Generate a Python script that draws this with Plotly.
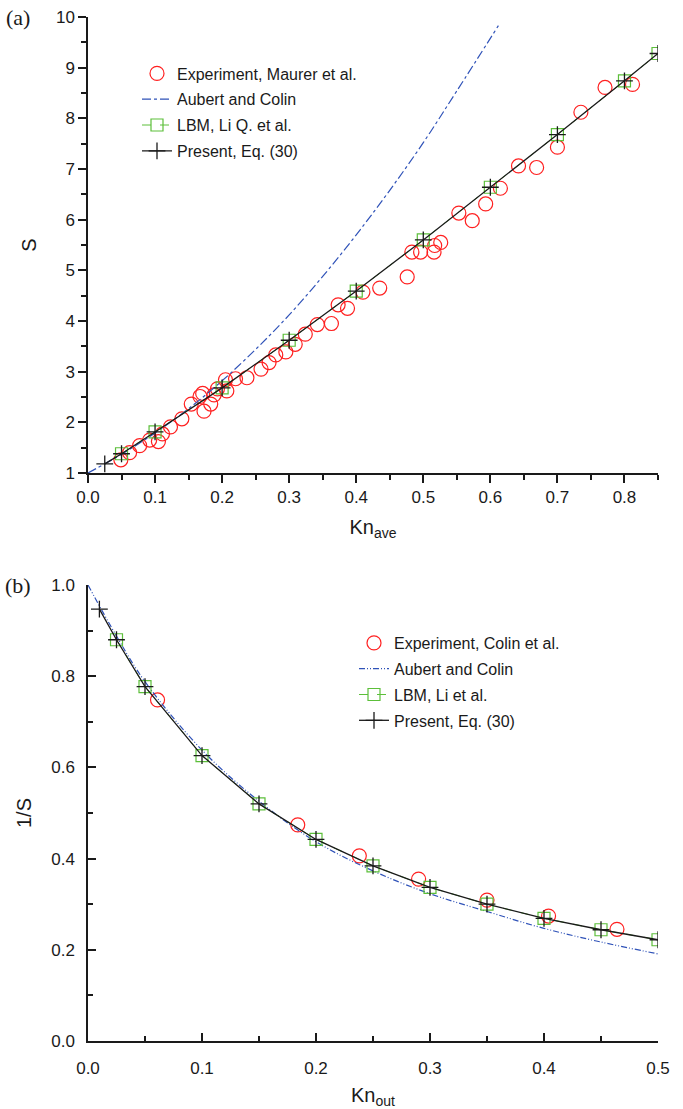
import plotly.graph_objects as go
from plotly.subplots import make_subplots

# ---------- (a) flow-rate ratio S versus average Knudsen number ----------
exp_a_kn = [0.049, 0.062, 0.077, 0.092, 0.105, 0.111, 0.123, 0.140, 0.154, 0.167,
            0.171, 0.173, 0.183, 0.188, 0.193, 0.205, 0.207, 0.220, 0.237, 0.258,
            0.270, 0.280, 0.295, 0.309, 0.324, 0.342, 0.363, 0.373, 0.387, 0.410,
            0.435, 0.476, 0.483, 0.496, 0.516, 0.517, 0.526, 0.553, 0.573, 0.593,
            0.615, 0.642, 0.669, 0.700, 0.735, 0.771, 0.812]
exp_a_s = [1.26, 1.40, 1.54, 1.65, 1.62, 1.77, 1.91, 2.07, 2.36, 2.51,
           2.57, 2.22, 2.36, 2.54, 2.66, 2.84, 2.62, 2.86, 2.88, 3.05,
           3.18, 3.33, 3.39, 3.54, 3.74, 3.93, 3.95, 4.32, 4.25, 4.57,
           4.65, 4.87, 5.36, 5.36, 5.36, 5.49, 5.55, 6.13, 5.98, 6.31,
           6.62, 7.06, 7.03, 7.43, 8.12, 8.61, 8.67]

ac_a_kn = [0.0, 0.05, 0.10, 0.15, 0.20, 0.25, 0.30, 0.35, 0.40, 0.45, 0.50, 0.55, 0.612]
ac_a_s = [1.00, 1.37, 1.79, 2.27, 2.82, 3.44, 4.12, 4.88, 5.70, 6.58, 7.52, 8.54, 9.83]

lbm_a_kn = [0.05, 0.10, 0.20, 0.30, 0.40, 0.50, 0.60, 0.70, 0.80, 0.85]
lbm_a_s = [1.38, 1.81, 2.68, 3.62, 4.59, 5.60, 6.64, 7.68, 8.74, 9.28]

present_a_kn = [0.025, 0.05, 0.10, 0.20, 0.30, 0.40, 0.50, 0.60, 0.70, 0.80, 0.85]
present_a_s = [1.18, 1.38, 1.81, 2.68, 3.62, 4.59, 5.60, 6.64, 7.68, 8.74, 9.28]

# ---------- (b) inverse ratio 1/S versus outlet Knudsen number ----------
exp_b_kn = [0.061, 0.184, 0.238, 0.290, 0.350, 0.404, 0.464]
exp_b_inv = [0.748, 0.474, 0.406, 0.355, 0.309, 0.274, 0.245]

ac_b_kn = [0.0, 0.025, 0.05, 0.10, 0.15, 0.20, 0.25, 0.30, 0.35, 0.40, 0.45, 0.50]
ac_b_inv = [1.000, 0.888, 0.788, 0.638, 0.526, 0.437, 0.373, 0.323, 0.284, 0.247, 0.217, 0.191]

lbm_b_kn = [0.025, 0.05, 0.10, 0.15, 0.20, 0.25, 0.30, 0.35, 0.40, 0.45, 0.50]
lbm_b_inv = [0.880, 0.777, 0.626, 0.520, 0.442, 0.384, 0.337, 0.300, 0.269, 0.244, 0.222]

present_b_kn = [0.01, 0.025, 0.05, 0.10, 0.15, 0.20, 0.25, 0.30, 0.35, 0.40, 0.45, 0.50]
present_b_inv = [0.947, 0.880, 0.777, 0.626, 0.520, 0.442, 0.384, 0.337, 0.300, 0.269, 0.244, 0.222]

RED = "#ff2020"
BLUE = "#2f52b8"
GREEN = "#5cbf3a"
INK = "#1a1a1a"
FONT = "Liberation Sans"

fig = make_subplots(rows=2, cols=1, vertical_spacing=0.0)


def add_panel(row, legend, exp, ac, lbm, present, names, ac_dash):
    fig.add_trace(go.Scatter(
        x=exp[0], y=exp[1], mode="markers", name=names[0], legend=legend,
        legendgroup=f"{legend}-exp",
        marker=dict(symbol="circle-open", size=14, color=RED, line=dict(width=1.2, color=RED)),
    ), row=row, col=1)
    fig.add_trace(go.Scatter(
        x=ac[0], y=ac[1], mode="lines", name=names[1], legend=legend,
        legendgroup=f"{legend}-ac", line_shape="spline",
        line=dict(color=BLUE, width=1.2, dash=ac_dash),
    ), row=row, col=1)
    fig.add_trace(go.Scatter(
        x=lbm[0], y=lbm[1], mode="lines+markers", name=names[2], legend=legend,
        legendgroup=f"{legend}-lbm",
        line=dict(color=GREEN, width=1, dash="dash"),
        marker=dict(symbol="square-open", size=12, color=GREEN, line=dict(width=1.2, color=GREEN)),
    ), row=row, col=1)
    fig.add_trace(go.Scatter(
        x=present[0], y=present[1], mode="lines+markers", name=names[3], legend=legend,
        legendgroup=f"{legend}-present",
        line=dict(color=INK, width=1.3),
        marker=dict(symbol="cross-thin", size=12, color=INK, line=dict(width=1.3, color=INK)),
    ), row=row, col=1)


add_panel(1, "legend", (exp_a_kn, exp_a_s), (ac_a_kn, ac_a_s), (lbm_a_kn, lbm_a_s),
          (present_a_kn, present_a_s),
          ["Experiment, Maurer et al.", "Aubert and Colin", "LBM, Li Q. et al.", "Present, Eq. (30)"],
          "dashdot")
add_panel(2, "legend2", (exp_b_kn, exp_b_inv), (ac_b_kn, ac_b_inv), (lbm_b_kn, lbm_b_inv),
          (present_b_kn, present_b_inv),
          ["Experiment, Colin et al.", "Aubert and Colin", "LBM, Li et al.", "Present, Eq. (30)"],
          "6px,2px,1px,2px,1px,2px")

axis_common = dict(showline=True, linewidth=1.5, linecolor=INK, showgrid=False, zeroline=False,
                   tickcolor=INK, tickwidth=1.5, ticklen=8, automargin=False,
                   tickfont=dict(family=FONT, size=17, color=INK),
                   title_font=dict(family=FONT, size=20, color=INK))

# panel (a): ticks outside
fig.update_xaxes(axis_common, row=1, col=1, range=[0, 0.85], dtick=0.1, tick0=0, tickformat=".1f",
                 ticks="outside",
                 minor=dict(dtick=0.05, ticks="outside", ticklen=5, tickcolor=INK, tickwidth=1.5),
                 title_text="Kn<sub>ave</sub>", title_standoff=14, domain=[0, 1])
fig.update_yaxes(axis_common, row=1, col=1, range=[1, 10], dtick=1, tick0=1, ticks="outside",
                 minor=dict(dtick=0.5, ticks="outside", ticklen=5, tickcolor=INK, tickwidth=1.5),
                 title_text="S", title_standoff=14, domain=[0.5547, 1.0])

# panel (b): ticks inside
fig.update_xaxes(axis_common, row=2, col=1, range=[0, 0.5], dtick=0.1, tick0=0, tickformat=".1f",
                 ticks="inside", ticklabelstandoff=11,
                 minor=dict(dtick=0.05, ticks="inside", ticklen=5, tickcolor=INK, tickwidth=1.5),
                 title_text="Kn<sub>out</sub>", title_standoff=14, domain=[0, 1])
fig.update_yaxes(axis_common, row=2, col=1, range=[0, 1.0], dtick=0.2, tick0=0, tickformat=".1f",
                 ticks="inside", ticklabelstandoff=8,
                 minor=dict(dtick=0.1, ticks="inside", ticklen=5, tickcolor=INK, tickwidth=1.5),
                 title_text="1/S", title_standoff=14, domain=[0.0, 0.4453])

legend_style = dict(font=dict(family=FONT, size=16, color=INK), bgcolor="rgba(0,0,0,0)",
                    borderwidth=0, tracegroupgap=2, xanchor="left", yanchor="top",
                    xref="paper", yref="paper")

fig.update_layout(
    width=683, height=1109,
    margin=dict(l=88, r=25, t=17, b=68, autoexpand=False),
    paper_bgcolor="white", plot_bgcolor="white",
    font=dict(family=FONT, color=INK),
    legend=dict(legend_style, x=(137 - 88) / 570, y=1 - (56.5 - 17) / 1024),
    legend2=dict(legend_style, x=(354 - 88) / 570, y=1 - (626 - 17) / 1024),
    annotations=[
        dict(text="(a)", xref="paper", yref="paper", x=(18 - 88) / 570, y=1.0,
             xanchor="center", yanchor="middle", showarrow=False,
             font=dict(family="Liberation Serif", size=22, color=INK)),
        dict(text="(b)", xref="paper", yref="paper", x=(18 - 88) / 570, y=0.4453,
             xanchor="center", yanchor="middle", showarrow=False,
             font=dict(family="Liberation Serif", size=22, color=INK)),
    ],
)

fig.write_html("out.html")
